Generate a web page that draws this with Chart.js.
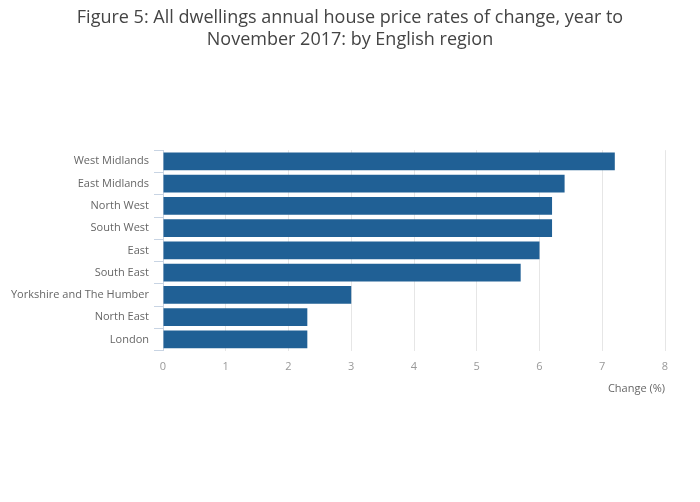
<!DOCTYPE html>
<html>
<head>
<meta charset="utf-8">
<script src="https://cdn.jsdelivr.net/npm/chart.js@4/dist/chart.umd.min.js"></script>
<style>
html,body{margin:0;padding:0;background:#fff;}
#wrap{width:700px;height:502px;position:relative;}
</style>
</head>
<body>
<div id="wrap"><canvas id="c" width="700" height="502"></canvas></div>
<script>
const categories = ["West Midlands","East Midlands","North West","South West","East","South East","Yorkshire and The Humber","North East","London"];
const changeValues = [7.2, 6.4, 6.2, 6.2, 6.0, 5.7, 3.0, 2.3, 2.3];
const xTicks = [0,1,2,3,4,5,6,7,8];
const titleLines = ["Figure 5: All dwellings annual house price rates of change, year to","November 2017: by English region"];
const xAxisTitle = "Change (%)";

const centerTitle = {
  id: 'centerTitle',
  afterLayout(chart) {
    const t = chart.titleBlock;
    if (t) { t.left = 0; t.right = chart.width; t.width = chart.width; }
  }
};

new Chart(document.getElementById('c'), {
  type: 'bar',
  data: {
    labels: categories,
    datasets: [{
      data: changeValues,
      backgroundColor: '#206095',
      borderWidth: 0,
      barPercentage: 0.8,
      categoryPercentage: 1.0
    }]
  },
  plugins: [centerTitle],
  options: {
    indexAxis: 'y',
    responsive: false,
    animation: false,
    devicePixelRatio: 1,
    layout: { padding: { left: 8, right: 35, top: 0, bottom: 107 } },
    plugins: {
      legend: { display: false },
      tooltip: { enabled: false },
      title: {
        display: true,
        text: titleLines,
        color: '#444',
        font: { family: 'Open Sans', size: 18, weight: 'normal', lineHeight: 1.2 },
        padding: { top: 7, bottom: 100 }
      }
    },
    scales: {
      x: {
        min: 0, max: 8,
        afterBuildTicks: (axis) => { axis.ticks = xTicks.map(v => ({ value: v })); },
        grid: { color: '#e6e6e6', drawTicks: false, lineWidth: 1 },
        border: { display: false },
        ticks: { color: '#999', font: { family: 'Open Sans', size: 11 }, padding: 10 },
        title: {
          display: true, text: xAxisTitle, align: 'end', color: '#666',
          font: { family: 'Open Sans', size: 11 }, padding: { top: -2, bottom: 0 }
        }
      },
      y: {
        afterFit: (axis) => { axis.width = 155; },
        grid: { drawOnChartArea: false, drawTicks: true, tickLength: 9, color: '#c8d4e3', offset: true },
        border: { display: true, color: '#c8d4e3' },
        ticks: { color: '#666', font: { family: 'Open Sans', size: 11 }, padding: 5 }
      }
    }
  }
});
</script>
</body>
</html>
